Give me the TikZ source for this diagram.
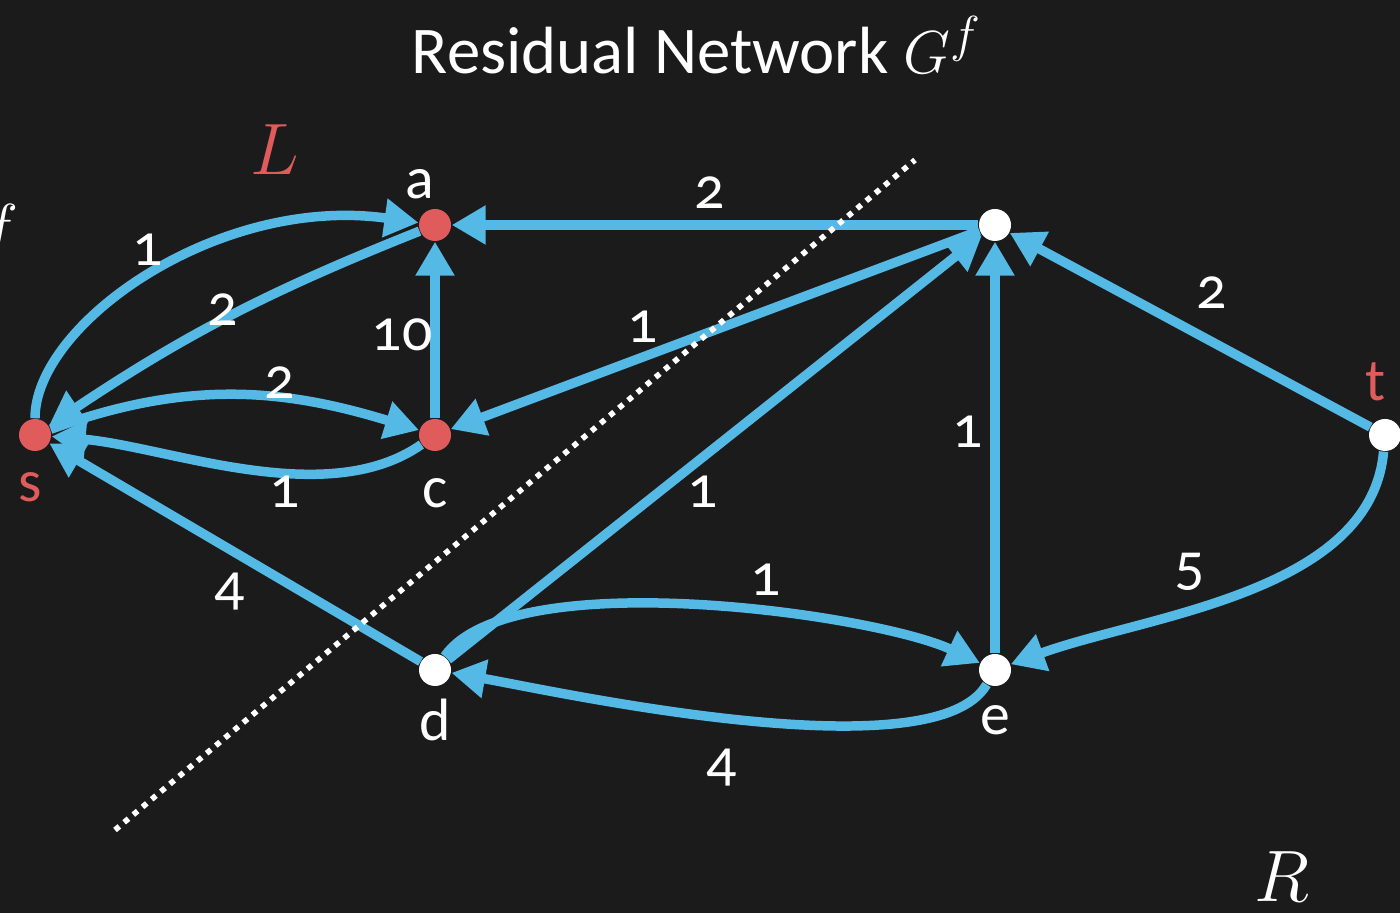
\documentclass[tikz,border=0pt]{standalone}
\usepackage{fontspec}
\setmainfont{Carlito}[Numbers=OldStyle]
\usetikzlibrary{arrows.meta}

\definecolor{board}{RGB}{27,27,27}
\definecolor{netblue}{RGB}{84,185,228}
\definecolor{netred}{RGB}{224,92,92}

\begin{document}
\begin{tikzpicture}[
    font=\fontsize{17}{20}\selectfont,
    edge/.style={draw=netblue, line width=2.7pt, -{Triangle[length=3.4mm,width=3.7mm]}},
    weight/.style={text=white},
    vtx/.style={circle, fill=white, minimum size=3.2mm, inner sep=0pt},
    lvtx/.style={vtx, fill=netred},
    vname/.style={text=white, inner sep=1pt, label distance=0.5mm},
    cut/.style={white, line width=1.6pt, dash pattern=on 1.6pt off 1.8pt}
]
    % Chalkboard background (1 px = 0.01 cm)
    \fill[board] (0,0) rectangle (14,9.13);
    \useasboundingbox (0,0) rectangle (14,9.13);

    % Title and side marks
    \node[text=white, font=\fontsize{19}{22}\selectfont] (title) at (6.97,8.68) {Residual Network $G^f$};
    \node[text=white, font=\fontsize{19}{22}\selectfont] (fcut) at (0.0,6.82) {$f$};
    \node[text=netred, font=\fontsize{20}{22}\selectfont] (Lside) at (2.75,7.63) {$L$};
    \node[text=white, font=\fontsize{22}{26}\selectfont] (Rside) at (12.82,0.36) {$R$};

    % Vertices
    \node[lvtx, label={[vname, text=netred, xshift=-0.5mm, label distance=1.7mm]below:s}] (s) at (0.35,4.78) {};
    \node[lvtx, label={[vname, xshift=-1.5mm]above:a}] (a) at (4.35,6.88) {};
    \node[lvtx, label={[vname, label distance=2.3mm]below:c}] (c) at (4.35,4.78) {};
    \node[vtx] (b) at (9.95,6.88) {};
    \node[vtx, label={[vname, text=netred, xshift=-1mm, label distance=1.3mm]above:t}] (t) at (13.85,4.78) {};
    \node[vtx, label={[vname, label distance=0.8mm]below:d}] (d) at (4.35,2.43) {};
    \node[vtx, label={[vname, label distance=1.5mm]below:e}] (e) at (9.95,2.43) {};

    % Residual edges
    \draw[edge] (s) to[out=90, in=172, out looseness=0.56, in looseness=1.2] (a);
    \draw[edge] (a) to[bend right=6] (s);
    \draw[edge] (s) to[out=20, in=163] (c);
    \draw[edge] (c) to[out=215, in=-5, looseness=0.8] (s);
    \draw[edge] (c) -- (a);
    \draw[edge] (b) -- (a);
    \draw[edge] (b) -- (c);
    \draw[edge] (d) -- (b);
    \draw[edge] (e) -- (b);
    \draw[edge] (t) -- (b);
    \draw[edge] (t) to[out=265, in=20, looseness=0.85] (e);
    \draw[edge] (d) to[out=55, in=155, looseness=0.55] (e);
    \draw[edge] (e) to[out=240, in=-10, looseness=0.5] (d);
    \draw[edge] (d) -- (s);

    % Edge capacities
    \node[weight] (w1) at (1.48,6.63) {1};
    \node[weight] (w2) at (2.23,6.03) {2};
    \node[weight] (w3) at (2.80,5.30) {2};
    \node[weight] (w4) at (2.85,4.21) {1};
    \node[weight] (w5) at (4.02,5.78) {10};
    \node[weight] (w6) at (7.10,7.20) {2};
    \node[weight] (w7) at (6.43,5.86) {1};
    \node[weight] (w8) at (7.03,4.21) {1};
    \node[weight] (w9) at (9.68,4.81) {1};
    \node[weight] (w10) at (12.12,6.20) {2};
    \node[weight] (w11) at (11.90,3.41) {5};
    \node[weight] (w12) at (7.66,3.33) {1};
    \node[weight] (w13) at (7.22,1.45) {4};
    \node[weight] (w14) at (2.30,3.21) {4};

    % Cut line
    \coordinate (cutA) at (1.15,0.83);
    \coordinate (cutB) at (9.15,7.53);
    \draw[cut] (cutA) -- (cutB);
\end{tikzpicture}
\end{document}
